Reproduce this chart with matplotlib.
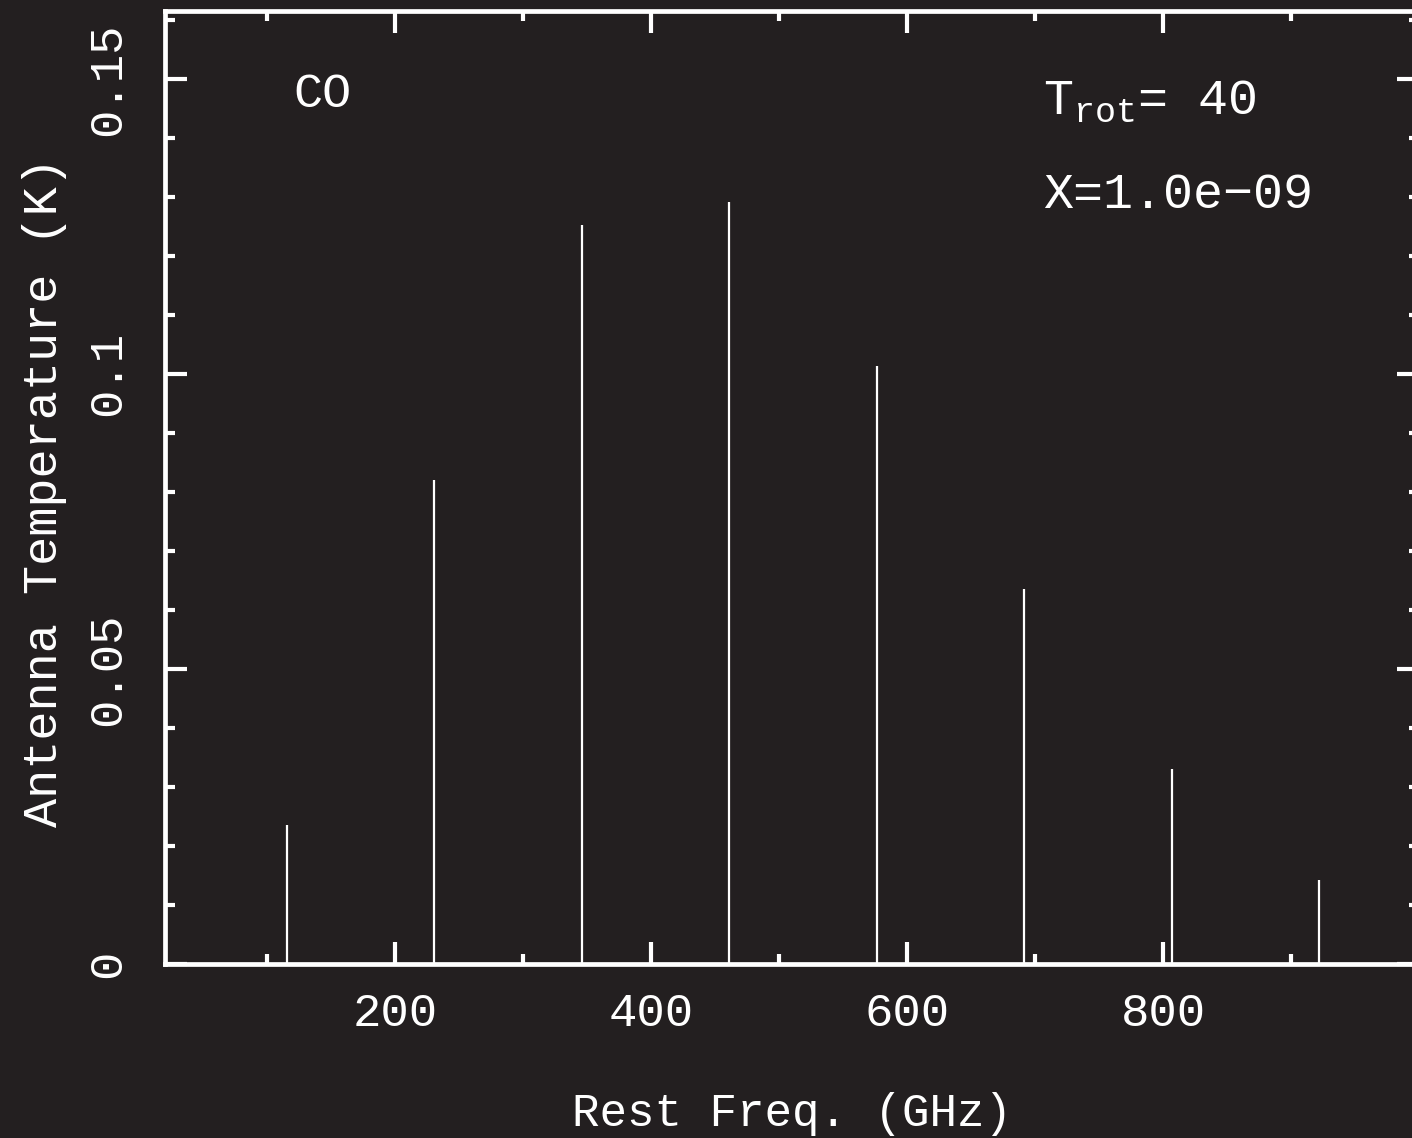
import matplotlib
matplotlib.use("Agg")
import matplotlib.pyplot as plt
from matplotlib.ticker import MultipleLocator, FixedFormatter, FixedLocator

# CO rotational lines (GHz) and antenna temperatures (K)
freq = [115.27, 230.54, 345.80, 461.04, 576.27, 691.47, 806.65, 921.80]
temp = [0.0235, 0.0821, 0.1252, 0.1291, 0.1014, 0.0636, 0.0330, 0.0142]

yticks = [0, 0.05, 0.1, 0.15]
ytick_labels = ["0", "0.05", "0.1", "0.15"]
xticks = [200, 400, 600, 800]
xtick_labels = ["200", "400", "600", "800"]

bg = "#231f20"
fg = "white"
plt.rcParams['font.family'] = ['Liberation Mono', 'DejaVu Sans Mono']
plt.rcParams['mathtext.fontset'] = 'custom'
plt.rcParams['mathtext.rm'] = 'Liberation Mono'

fig = plt.figure(figsize=(14.12, 11.38), dpi=100, facecolor=bg)
# right edge of the axes runs slightly past the figure, as in the reference
ax = fig.add_axes([165/1412, (1138-964)/1138, (1419-165)/1412, (964-11)/1138])
ax.set_facecolor(bg)

ax.vlines(freq, 0, temp, colors=fg, linewidth=1.6)

ax.set_xlim(20.3, 1000)
ax.set_ylim(0, 0.1615)

ax.xaxis.set_major_locator(FixedLocator(xticks))
ax.xaxis.set_major_formatter(FixedFormatter(xtick_labels))
ax.xaxis.set_minor_locator(MultipleLocator(100))
ax.yaxis.set_major_locator(FixedLocator(yticks))
ax.yaxis.set_major_formatter(FixedFormatter(ytick_labels))
ax.yaxis.set_minor_locator(MultipleLocator(0.01))

for s in ax.spines.values():
    s.set_color(fg)
    s.set_linewidth(3.4)

ax.tick_params(which='both', direction='in', top=True, right=True, colors=fg)
ax.tick_params(which='major', length=16, width=3, labelsize=34)
ax.tick_params(which='minor', length=7, width=3)
ax.tick_params(axis='x', pad=20)
ax.tick_params(axis='y', pad=25, labelrotation=90)
for lbl in ax.get_yticklabels():
    lbl.set_va('center')

ax.set_xlabel("Rest Freq. (GHz)", color=fg, fontsize=33)
ax.set_ylabel("Antenna Temperature (K)", color=fg, fontsize=35)
ax.xaxis.set_label_coords(0.5, -0.157)
ax.xaxis.label.set_va('center')
ax.yaxis.set_label_coords(-0.0957, 0.495)
ax.yaxis.label.set_va('center')

ax.text(0.102, 0.912, "CO", color=fg, fontsize=35, va='center', ha='left',
        transform=ax.transAxes)
ax.text(0.700, 0.905, r"T$_{\rm rot}$= 40", color=fg, fontsize=36,
        va='center', ha='left', transform=ax.transAxes)
ax.text(0.700, 0.807, "X=1.0e\u221209", color=fg, fontsize=36,
        va='center', ha='left', transform=ax.transAxes)

fig.savefig("out.png", dpi=100, facecolor=bg)
